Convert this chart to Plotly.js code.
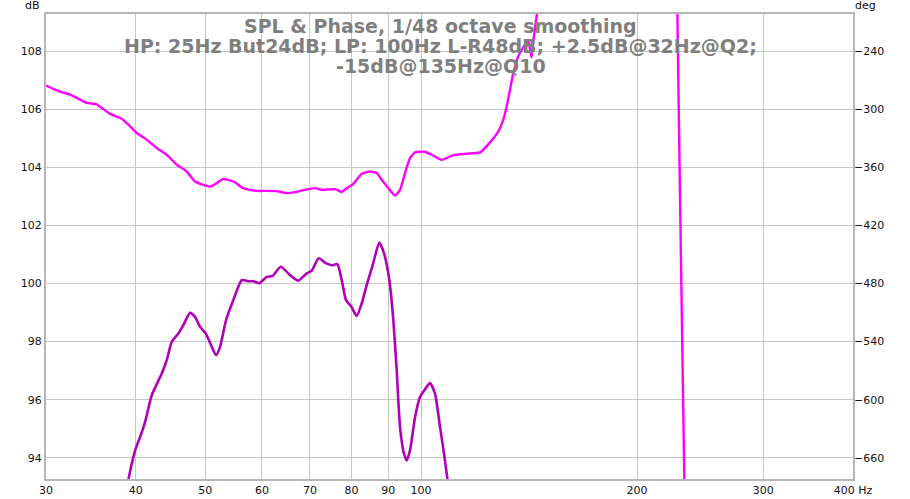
<!DOCTYPE html>
<html>
<head>
<meta charset="utf-8">
<script src="https://cdn.plot.ly/plotly-3.0.1.min.js"></script>
<style>html,body{margin:0;padding:0;background:#fff;}#chart{width:910px;height:499px;}</style>
</head>
<body>
<div id="chart"></div>
<script>
// SPL (dB) curve
const splFreq = [38.9, 39.5, 39.93, 40.57, 41.23, 42.12, 43.5, 44.2, 44.92, 45.88, 46.62, 47.63, 48.4, 49.19, 50.15, 51.07, 51.78, 52.45, 53.47, 54.74, 56.23, 57.44, 58.37, 59.5, 60.93, 62.1, 63.72, 65.66, 67.43, 69.27, 70.39, 71.99, 73.65, 75.18, 76.42, 77.51, 78.59, 79.91, 81.33, 82.65, 83.99, 85.62, 87.45, 88.78, 90.31, 91.47, 92.47, 93.46, 94.66, 95.49, 96.5, 98.07, 99.65, 101.27, 102.91, 104.57, 106.26, 107.64, 109.2];
const splDb = [93.0, 93.79, 94.25, 94.71, 95.23, 96.15, 96.9, 97.36, 97.99, 98.28, 98.57, 98.99, 98.85, 98.51, 98.26, 97.82, 97.53, 97.82, 98.74, 99.43, 100.12, 100.08, 100.08, 100.01, 100.23, 100.26, 100.58, 100.29, 100.1, 100.35, 100.44, 100.87, 100.7, 100.63, 100.67, 100.12, 99.43, 99.21, 98.88, 99.32, 99.95, 100.64, 101.41, 101.04, 100.12, 98.74, 97.01, 95.06, 94.14, 93.91, 94.25, 95.4, 96.09, 96.36, 96.57, 96.21, 95.06, 94.14, 93.0];

// Phase (deg) curve; null marks the wrapped part above the axis
const phaseFreq = [30, 30.71, 31.38, 32.4, 33.11, 34.18, 35.3, 35.87, 36.84, 38.25, 39.08, 40.14, 41.45, 42.8, 44.2, 45.65, 47.13, 48.4, 49.71, 50.91, 51.9, 52.91, 54.74, 56.52, 59.0, 60.93, 62.91, 64.96, 66.72, 68.89, 71.14, 72.69, 75.86, 77.51, 78.76, 80.45, 82.65, 84.88, 86.72, 88.13, 90.02, 91.98, 93.46, 94.97, 96.5, 98.07, 101.27, 103.47, 106.85, 110.9, 115.77, 120.82, 124.76, 128.13, 130.2, 131.63, 133.03, 134.45, 136.63, 139.6, 141.08, 142.54, 143.46, 144.38, 145.31, 146.25, 180, 227.48, 229.61, 232.95];
const phaseDeg = [-275.5, -278.9, -281.7, -284.8, -288.3, -293.4, -294.9, -298.6, -304.8, -309.7, -315.9, -324.5, -331.4, -340.0, -347.0, -357.3, -364.3, -374.6, -378.0, -379.8, -376.3, -372.1, -374.6, -381.5, -384.3, -384.3, -384.6, -386.6, -385.6, -383.2, -381.5, -383.2, -382.5, -385.3, -381.5, -377.0, -366.7, -364.3, -365.9, -372.9, -381.5, -389.1, -383.2, -365.9, -350.4, -344.6, -343.9, -347.0, -352.2, -347.3, -345.9, -344.6, -334.2, -322.8, -310.7, -297.0, -279.7, -262.4, -245.2, -233.1, -230.0, -246.5, -227.9, -212.4, -196.8, -181.3, null, -186.5, -393.6, -699.1];

// Axis ticks
const xTickVals = [30, 40, 50, 60, 70, 80, 90, 100, 200, 300, 400];
const xTickText = ['30', '40', '50', '60', '70', '80', '90', '100', '200', '300', '400 Hz'];
const dbTicks = [94, 96, 98, 100, 102, 104, 106, 108];
const degTicks = [-660, -600, -540, -480, -420, -360, -300, -240];

const titleLines = [
  'SPL & Phase, 1/48 octave smoothing',
  'HP: 25Hz But24dB; LP: 100Hz L-R48dB; +2.5dB@32Hz@Q2;',
  '-15dB@135Hz@Q10'
];

const FONT = 'DejaVu Sans, Verdana, sans-serif';
const gridColor = '#c6c6c6';
const frameColor = '#b6b6b6';

const traces = [
  {
    x: splFreq, y: splDb, type: 'scatter', mode: 'lines',
    line: {color: '#b000b8', width: 2.6, shape: 'spline', smoothing: 0.6},
    yaxis: 'y', hoverinfo: 'skip'
  },
  {
    x: phaseFreq, y: phaseDeg, type: 'scatter', mode: 'lines',
    line: {color: '#ff00ff', width: 2.4, shape: 'spline', smoothing: 0.5},
    connectgaps: false, yaxis: 'y2', hoverinfo: 'skip'
  }
];

const titleY = [0.974, 0.931, 0.888];
const annotations = titleLines.map((t, i) => ({
  text: '<b>' + t.replace(/&/g, '&amp;') + '</b>',
  xref: 'paper', yref: 'paper', x: 0.489, y: titleY[i],
  xanchor: 'center', yanchor: 'middle', showarrow: false,
  font: {family: FONT, size: 19, color: '#7f7f7f'}
}));
annotations.push({
  text: 'dB', xref: 'paper', yref: 'paper', x: -0.017, y: 1.0,
  xanchor: 'center', yanchor: 'bottom', showarrow: false,
  font: {family: FONT, size: 11, color: '#111'}
});
annotations.push({
  text: 'deg', xref: 'paper', yref: 'paper', x: 1.016, y: 1.0,
  xanchor: 'center', yanchor: 'bottom', showarrow: false,
  font: {family: FONT, size: 11, color: '#111'}
});

const layout = {
  width: 910, height: 499,
  margin: {l: 46, r: 57, t: 14, b: 20, pad: 0},
  paper_bgcolor: '#ffffff', plot_bgcolor: '#ffffff',
  showlegend: false,
  font: {family: FONT, size: 11, color: '#111'},
  xaxis: {
    type: 'log', range: [Math.log10(30), Math.log10(400)],
    tickmode: 'array', tickvals: xTickVals, ticktext: xTickText,
    showgrid: true, gridcolor: gridColor, gridwidth: 1,
    showline: true, linecolor: frameColor, linewidth: 2, mirror: true,
    ticks: '', zeroline: false, tickfont: {family: FONT, size: 11, color: '#111'}
  },
  yaxis: {
    range: [93.27, 109.28],
    tickmode: 'array', tickvals: dbTicks,
    showgrid: true, gridcolor: gridColor, gridwidth: 1,
    showline: true, linecolor: frameColor, linewidth: 2, mirror: true,
    ticks: '', zeroline: false, tickfont: {family: FONT, size: 11, color: '#111'}
  },
  yaxis2: {
    overlaying: 'y', side: 'right',
    range: [-681.9, -201.6],
    tickmode: 'array', tickvals: degTicks,
    showgrid: false, zeroline: false, showline: false, ticks: '',
    tickfont: {family: FONT, size: 11, color: '#111'}
  },
  annotations: annotations
};

Plotly.newPlot('chart', traces, layout, {displayModeBar: false, staticPlot: true});
</script>
</body>
</html>
